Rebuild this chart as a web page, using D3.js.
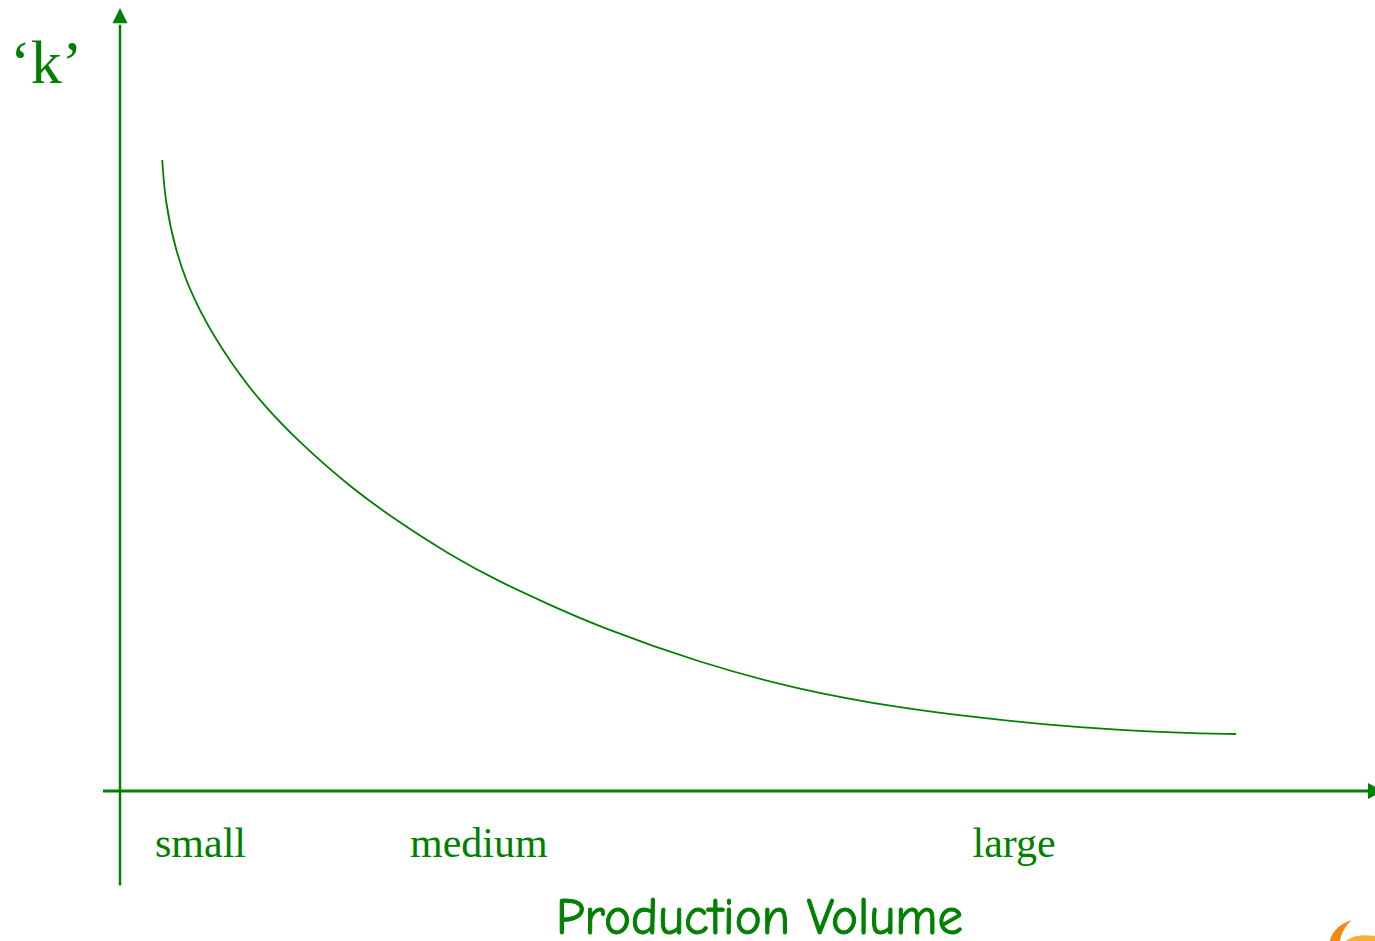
<!DOCTYPE html>
<html>
<head>
<meta charset="utf-8">
<script src="https://cdn.jsdelivr.net/npm/d3@7"></script>
<style>
  html, body { margin: 0; padding: 0; background: #ffffff; overflow: hidden; }
  svg { display: block; }
</style>
</head>
<body>
<svg id="chart" width="1375" height="941"></svg>
<script>
// ---- data ----
const volumeCategories = ["small", "medium", "large"];
const categoryPositions = [28, 232, 682];      // x (volume units) where each label starts
const curveVolume = [33.8, 36.0, 44.0, 58.6, 81.4, 110.6, 144.0, 184.0, 224.0, 264.0, 304.0, 344.0, 384.0, 464.0, 544.0, 624.0, 688.0, 768.0, 848.0, 892.8];
const curveK      = [807.9, 756.7, 692.7, 628.7, 564.7, 500.6, 445.6, 389.2, 343.1, 302.2, 267.6, 238.2, 210.0, 163.9, 129.3, 106.3, 93.5, 80.7, 74.3, 73.0];
const yAxisLabel = "\u2018k\u2019";
const xAxisLabel = "Production Volume";

// ---- layout ----
const green = "#008000";
const svg = d3.select("#chart");

const x = d3.scaleLinear().domain([0, 1000]).range([120, 1370]);
const y = d3.scaleLinear().domain([0, 1000]).range([791, 10]);

// axes lines
svg.append("line")
  .attr("x1", x(-13.6)).attr("x2", x(1000))
  .attr("y1", y(0)).attr("y2", y(0))
  .attr("stroke", green).attr("stroke-width", 3);
svg.append("line")
  .attr("x1", x(0)).attr("x2", x(0))
  .attr("y1", y(-121)).attr("y2", y(981))
  .attr("stroke", green).attr("stroke-width", 2.5);

// arrowheads
const ax = x(0), ay = y(0);
svg.append("path")
  .attr("d", `M${ax},${y(1002.5)} L${ax - 7.5},${y(983)} L${ax + 7.5},${y(983)} Z`)
  .attr("fill", green);
svg.append("path")
  .attr("d", `M${x(1010)},${ay} L${x(998.4)},${ay - 8} L${x(998.4)},${ay + 8} Z`)
  .attr("fill", green);

// curve
const pts = curveVolume.map((v, i) => [v, curveK[i]]);
const line = d3.line()
  .x(d => x(d[0]))
  .y(d => y(d[1]))
  .curve(d3.curveBasis);
svg.append("path")
  .datum(pts)
  .attr("d", line)
  .attr("fill", "none")
  .attr("stroke", green)
  .attr("stroke-width", 1.8);

// category labels
svg.selectAll("text.cat")
  .data(volumeCategories)
  .enter().append("text")
  .attr("class", "cat")
  .attr("x", (d, i) => x(categoryPositions[i]))
  .attr("y", 857)
  .attr("fill", green)
  .attr("font-family", "'Liberation Serif', 'Times New Roman', serif")
  .attr("font-size", 42)
  .text(d => d);

// y label
svg.append("text")
  .attr("x", 10)
  .attr("y", 83)
  .attr("fill", green)
  .attr("font-family", "'Liberation Serif', 'Times New Roman', serif")
  .attr("font-size", 62)
  .text(yAxisLabel);

// x label
svg.append("text")
  .attr("x", 556)
  .attr("y", 934)
  .attr("fill", green)
  .attr("stroke", green)
  .attr("stroke-width", 1)
  .attr("font-family", "'Comic Sans MS', 'Comic Neue', 'Open Sans', sans-serif")
  .attr("font-size", 52)
  .attr("textLength", 407)
  .attr("lengthAdjust", "spacingAndGlyphs")
  .text(xAxisLabel);

// small orange logo fragment at bottom-right corner
svg.append("path")
  .attr("d", "M1352,920 C1338,924 1331,934 1330,941 L1340,941 C1341,934 1345,926 1352,920 Z")
  .attr("fill", "#f08a10");
svg.append("path")
  .attr("d", "M1346,941 C1352,936 1362,934 1375,936 L1375,941 Z")
  .attr("fill", "#f7b030");
</script>
</body>
</html>
